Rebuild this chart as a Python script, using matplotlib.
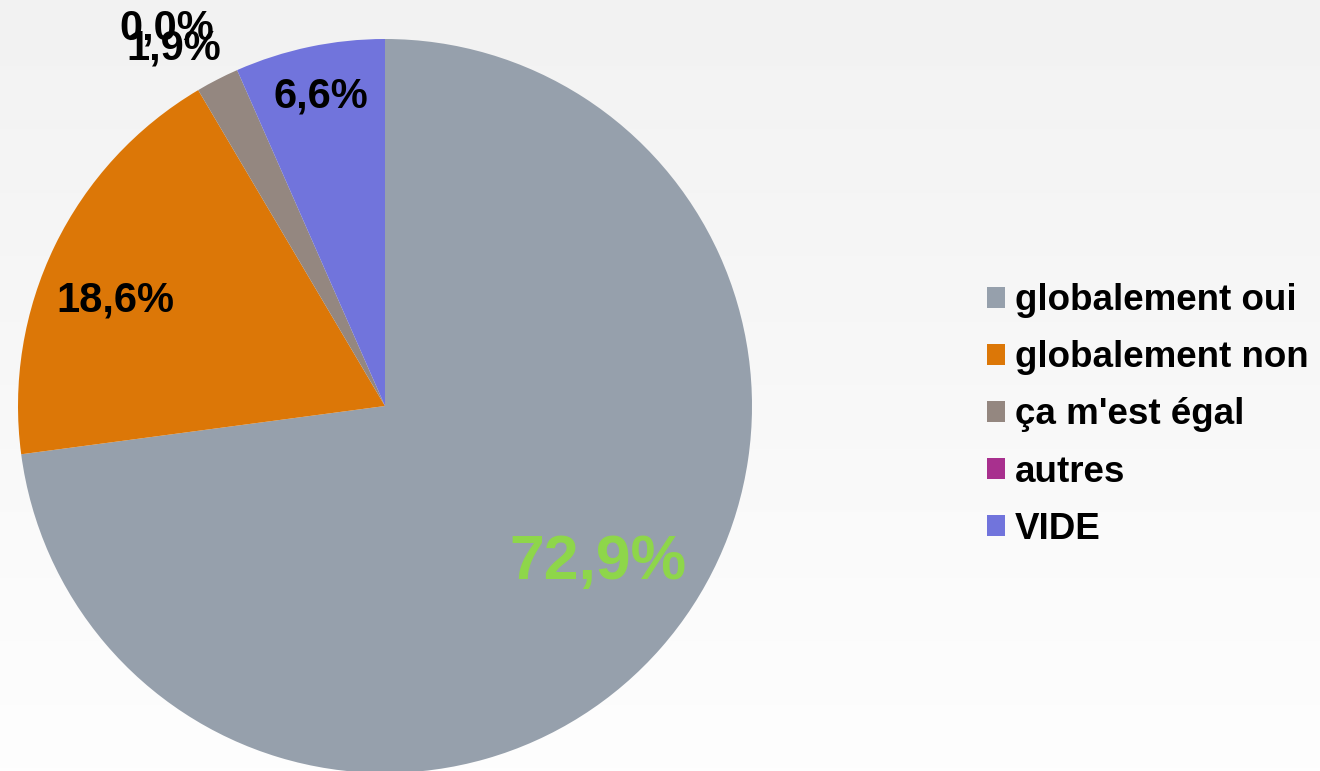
import numpy as np
import matplotlib
matplotlib.use('Agg')
import matplotlib.pyplot as plt

## DATA
labels = ['globalement oui', 'globalement non', "ça m'est égal", 'autres', 'VIDE']
values = [72.9, 18.6, 1.9, 0.0, 6.6]
colors = ['#96a0ac', '#dc7707', '#948780', '#a8308e', '#7174dc']
pct_text = ['72,9%', '18,6%', '1,9%', '0,0%', '6,6%']

# label placement (radius fraction, angle shift in deg, font size, colour)
lab_r = [0.72, 0.79, 1.133, 1.188, 0.86]
lab_shift = [4.9, 4.6, 3.4, 6.35, -0.2]
lab_size = [45, 30, 30, 30, 30]
lab_col = ['#8ed64a', 'black', 'black', 'black', 'black']

plt.rcParams['font.family'] = ['Liberation Sans', 'DejaVu Sans']

fig = plt.figure(figsize=(13.2, 7.71), dpi=100)

# background gradient
bg = fig.add_axes([0, 0, 1, 1], zorder=-1)
grad = np.linspace(0, 1, 256).reshape(-1, 1)
cmap = matplotlib.colors.LinearSegmentedColormap.from_list('bg', ['#f2f2f2', '#fefefe'])
bg.imshow(grad, aspect='auto', cmap=cmap, extent=[0, 1, 0, 1], origin='upper')
bg.axis('off')

ax = fig.add_axes([18 / 1320, -2 / 771, 734 / 1320, 734 / 771])
wedges, _ = ax.pie(values, colors=colors, startangle=90, counterclock=False,
                   radius=1.0, wedgeprops=dict(linewidth=0))
ax.set_xlim(-1, 1)
ax.set_ylim(-1, 1)
ax.axis('off')

for w, t, r, sh, fs, c in zip(wedges, pct_text, lab_r, lab_shift, lab_size, lab_col):
    mid = (w.theta1 + w.theta2) / 2 + sh
    x = r * np.cos(np.radians(mid))
    y = r * np.sin(np.radians(mid))
    ax.text(x, y, t, ha='center', va='center', fontsize=fs, fontweight='bold', color=c,
            clip_on=False)

leg = fig.legend(wedges, labels, loc='center left', bbox_to_anchor=(987 / 1320, 1 - 415 / 771),
                 frameon=False, fontsize=26.5, handlelength=0.5, handleheight=0.5,
                 handletextpad=0.25, labelspacing=0.6, borderpad=0, borderaxespad=0)
for txt in leg.get_texts():
    txt.set_fontweight('bold')

fig.savefig('out.png', dpi=100)
